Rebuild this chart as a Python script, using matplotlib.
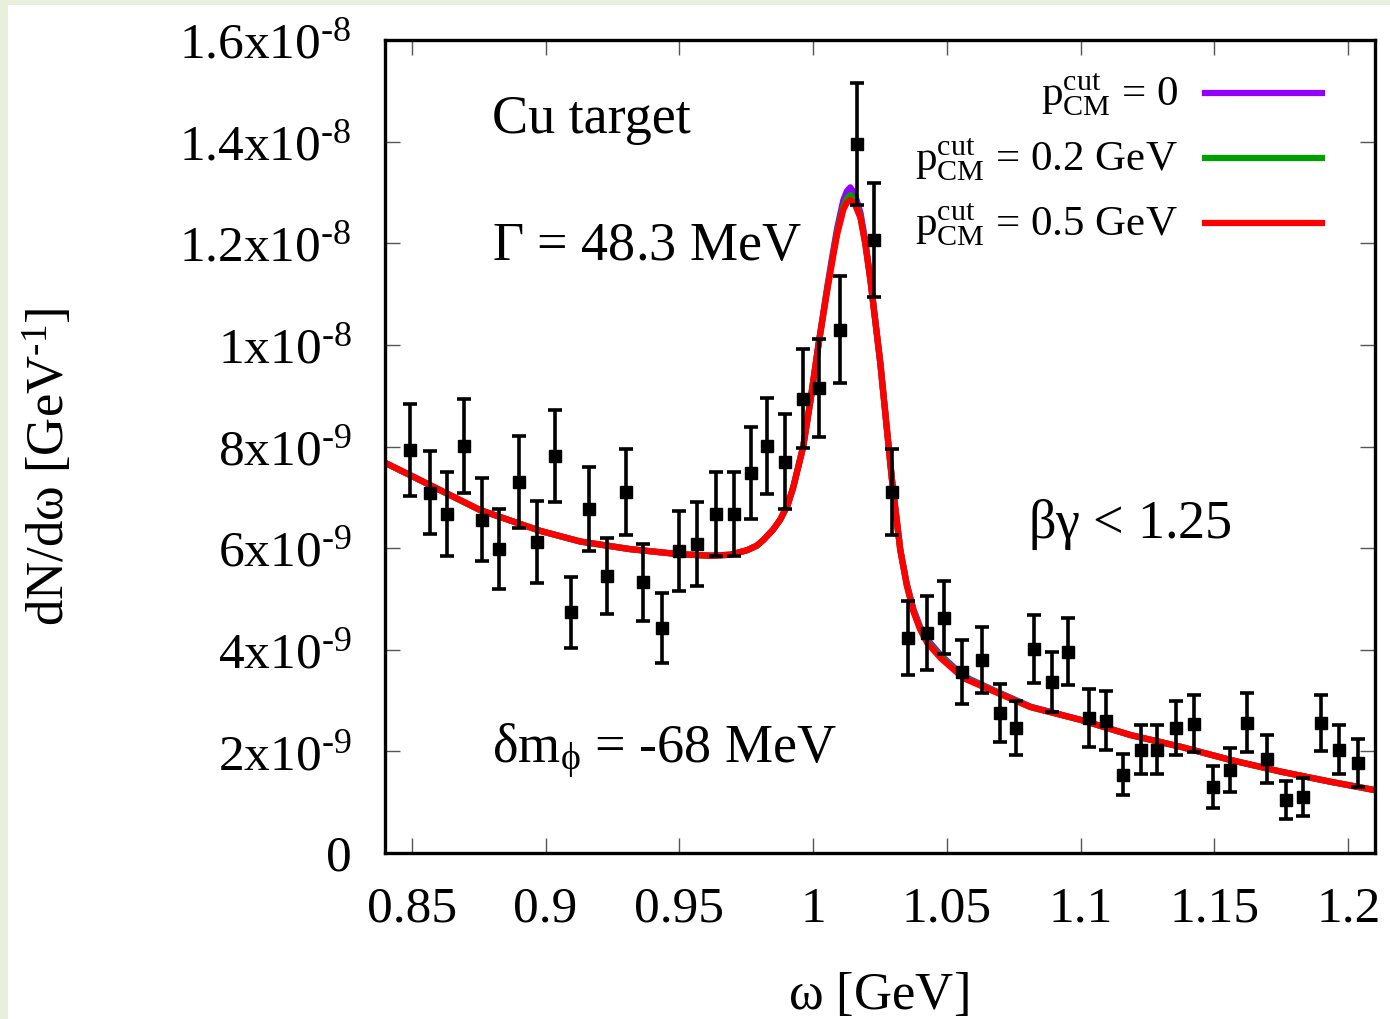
import matplotlib
matplotlib.use("Agg")
import matplotlib.pyplot as plt
from matplotlib.ticker import FixedLocator
from matplotlib.patches import Rectangle

plt.rcParams["font.family"] = ["Liberation Serif", "DejaVu Serif"]
plt.rcParams["mathtext.fontset"] = "custom"
plt.rcParams["mathtext.rm"] = "Liberation Serif"
plt.rcParams["mathtext.it"] = "Liberation Serif:italic"

# data points (omega in GeV, dN/domega in units of 1e-9 GeV^-1)
omega = [0.8493, 0.8567, 0.8631, 0.8695, 0.8762, 0.8826, 0.8900, 0.8968, 0.9035, 0.9095,
         0.9162, 0.9230, 0.9301, 0.9365, 0.9436, 0.9499, 0.9567, 0.9638, 0.9705, 0.9769,
         0.9829, 0.9896, 0.9963, 1.0023, 1.0102, 1.0165, 1.0229, 1.0296, 1.0356, 1.0424,
         1.0491, 1.0555, 1.0633, 1.0697, 1.0757, 1.0824, 1.0891, 1.0951, 1.1030, 1.1094,
         1.1157, 1.1225, 1.1284, 1.1356, 1.1423, 1.1494, 1.1558, 1.1621, 1.1696, 1.1767,
         1.1831, 1.1898, 1.1966, 1.2037]
dndw = [7.93, 7.09, 6.67, 8.01, 6.56, 5.98, 7.30, 6.12, 7.81, 4.74,
        6.77, 5.45, 7.11, 5.33, 4.43, 5.94, 6.08, 6.67, 6.67, 7.48,
        8.01, 7.70, 8.94, 9.15, 10.30, 13.96, 12.07, 7.11, 4.23, 4.33,
        4.63, 3.56, 3.80, 2.76, 2.46, 4.02, 3.37, 3.96, 2.66, 2.60,
        1.54, 2.03, 2.03, 2.46, 2.54, 1.30, 1.63, 2.56, 1.85, 1.04,
        1.10, 2.56, 2.03, 1.77]
err = [0.90, 0.82, 0.83, 0.92, 0.82, 0.79, 0.90, 0.81, 0.90, 0.70,
       0.82, 0.75, 0.85, 0.76, 0.69, 0.79, 0.82, 0.83, 0.83, 0.90,
       0.94, 0.93, 0.97, 0.97, 1.05, 1.20, 1.12, 0.85, 0.72, 0.73,
       0.72, 0.63, 0.65, 0.57, 0.53, 0.67, 0.59, 0.66, 0.57, 0.58,
       0.40, 0.48, 0.48, 0.54, 0.56, 0.41, 0.43, 0.58, 0.48, 0.37,
       0.38, 0.55, 0.48, 0.47]

# model curves
curve_w = [0.840, 0.850, 0.8755, 0.898, 0.913, 0.9316, 0.950, 0.962, 0.969, 0.9754,
           0.9790, 0.9814, 0.9850, 0.9877, 0.9905, 0.9926, 0.9963, 0.9990, 1.0020, 1.0053,
           1.0075, 1.0090, 1.0113, 1.0126, 1.0139, 1.0155, 1.0177, 1.0195, 1.0214, 1.0251,
           1.0296, 1.0326, 1.0350, 1.0375, 1.0400, 1.0427, 1.0476, 1.0562, 1.0689, 1.0813,
           1.100, 1.1187, 1.1374, 1.1561, 1.1749, 1.1936, 1.2097]
curve_p0 = [7.68, 7.42, 6.75, 6.34, 6.13, 5.98, 5.88, 5.85, 5.87, 5.96,
            6.05, 6.16, 6.36, 6.56, 6.85, 7.20, 8.00, 8.90, 10.00, 11.15,
            11.85, 12.30, 12.85, 13.02, 13.10, 12.98, 12.60, 12.05, 11.30, 9.65,
            7.28, 5.96, 5.30, 4.80, 4.45, 4.20, 3.90, 3.48, 3.17, 2.88,
            2.62, 2.32, 2.09, 1.83, 1.60, 1.40, 1.24]
curve_p02 = [7.68, 7.42, 6.75, 6.34, 6.13, 5.98, 5.88, 5.85, 5.87, 5.96,
             6.05, 6.16, 6.36, 6.56, 6.85, 7.20, 8.00, 8.90, 10.00, 11.10,
             11.78, 12.22, 12.72, 12.88, 12.95, 12.85, 12.52, 12.00, 11.28, 9.65,
             7.28, 5.96, 5.28, 4.77, 4.42, 4.16, 3.87, 3.46, 3.16, 2.87,
             2.62, 2.32, 2.09, 1.83, 1.60, 1.40, 1.24]
curve_p05 = [7.68, 7.42, 6.75, 6.34, 6.13, 5.98, 5.88, 5.85, 5.87, 5.96,
             6.05, 6.16, 6.36, 6.56, 6.85, 7.20, 8.00, 8.90, 10.00, 11.08,
             11.75, 12.18, 12.66, 12.80, 12.85, 12.78, 12.50, 11.98, 11.28, 9.65,
             7.28, 5.96, 5.27, 4.75, 4.40, 4.13, 3.84, 3.44, 3.15, 2.87,
             2.62, 2.32, 2.09, 1.83, 1.60, 1.40, 1.24]

labels = [r"$\mathregular{p_{CM}^{cut}}$ = 0",
          r"$\mathregular{p_{CM}^{cut}}$ = 0.2 GeV",
          r"$\mathregular{p_{CM}^{cut}}$ = 0.5 GeV"]
colors = ["#9400ff", "#00a000", "#ff0000"]

xticks = [0.85, 0.9, 0.95, 1.0, 1.05, 1.1, 1.15, 1.2]
xticklabels = ["0.85", "0.9", "0.95", "1", "1.05", "1.1", "1.15", "1.2"]
yticks = [0, 2, 4, 6, 8, 10, 12, 14, 16]
yticklabels = ["0", r"2x10$^{\mathregular{\text{-}9}}$", r"4x10$^{\mathregular{\text{-}9}}$",
               r"6x10$^{\mathregular{\text{-}9}}$", r"8x10$^{\mathregular{\text{-}9}}$",
               r"1x10$^{\mathregular{\text{-}8}}$", r"1.2x10$^{\mathregular{\text{-}8}}$",
               r"1.4x10$^{\mathregular{\text{-}8}}$", r"1.6x10$^{\mathregular{\text{-}8}}$"]

fig = plt.figure(figsize=(13.9, 10.19), dpi=100)
fig.patch.set_facecolor("white")
# light green frame of the screenshot
fig.patches.append(Rectangle((0, 0), 8 / 1390, 1, transform=fig.transFigure,
                             facecolor="#e8f0dc", edgecolor="none"))
fig.patches.append(Rectangle((0, 1 - 5 / 1019), 1, 5 / 1019, transform=fig.transFigure,
                             facecolor="#e8f0dc", edgecolor="none"))

ax = fig.add_axes([385 / 1390, 1 - 853 / 1019, 990 / 1390, 813 / 1019])

for cv, c in zip([curve_p0, curve_p02, curve_p05], colors):
    ax.plot(curve_w, cv, color=c, lw=4.5, zorder=2, solid_joinstyle="round")

ax.errorbar(omega, dndw, yerr=err, fmt="s", color="black", ms=9, elinewidth=2.6,
            capsize=5, capthick=2.6, zorder=3)

ax.set_xlim(0.84, 1.21)
ax.set_ylim(0, 16)
ax.xaxis.set_major_locator(FixedLocator(xticks))
ax.yaxis.set_major_locator(FixedLocator(yticks))
ax.set_xticklabels(xticklabels)
ax.set_yticklabels(yticklabels)
ax.tick_params(direction="in", length=11, width=1, color="#555555",
               top=True, right=True, labelsize=37)
ax.tick_params(axis="y", pad=24)
ax.tick_params(axis="x", pad=24)
for s in ax.spines.values():
    s.set_linewidth(2.4)

ax.set_xlabel(r"$\mathregular{\omega}$ [GeV]", fontsize=38)
ax.xaxis.set_label_coords(0.498, -0.146)
ax.set_ylabel(r"dN/d$\mathregular{\omega}$ [GeV$^{\mathregular{\text{-}1}}$]", fontsize=38)
ax.yaxis.set_label_coords(-0.313, 0.475)

ax.text(0.108, 0.886, "Cu target", transform=ax.transAxes, fontsize=39, va="baseline")
ax.text(0.108, 0.729, r"$\mathregular{\Gamma}$ = 48.3 MeV", transform=ax.transAxes,
        fontsize=39, va="baseline")
ax.text(0.108, 0.111, r"$\mathregular{\delta m_{\phi}}$ = -68 MeV", transform=ax.transAxes,
        fontsize=39, va="baseline")
ax.text(0.650, 0.387, r"$\mathregular{\beta\gamma}$ < 1.25", transform=ax.transAxes,
        fontsize=39, va="baseline")

# legend drawn as in gnuplot: right-aligned labels, sample line to the right
leg_y = [0.935, 0.855, 0.775]
for lab, c, yy in zip(labels, colors, leg_y):
    ax.plot([0.828, 0.946], [yy, yy], color=c, lw=4.5, transform=ax.transAxes)
    ax.text(0.801, yy - 0.017, lab, transform=ax.transAxes, fontsize=31,
            ha="right", va="baseline")

fig.savefig("out.png", dpi=100)
